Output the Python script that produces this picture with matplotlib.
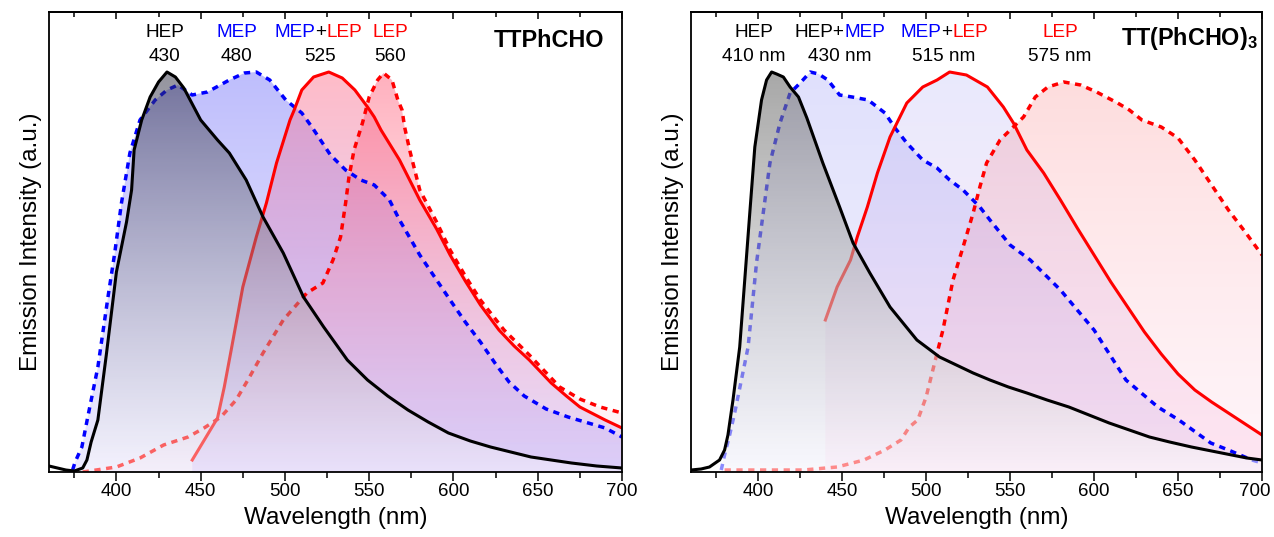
import numpy as np
import matplotlib
matplotlib.use('Agg')
import matplotlib.pyplot as plt
from matplotlib.patches import Polygon
from matplotlib.offsetbox import TextArea, HPacker, AnnotationBbox
from matplotlib.ticker import MultipleLocator
from matplotlib.transforms import ScaledTranslation

plt.rcParams['font.family'] = ['Liberation Sans', 'DejaVu Sans']
plt.rcParams['mathtext.fontset'] = 'custom'
plt.rcParams['mathtext.rm'] = 'Liberation Sans'
plt.rcParams['mathtext.bf'] = 'Liberation Sans:bold'

# ---------------- data: TTPhCHO (left) ----------------
wl_L_hep = [360, 365, 370, 375, 380, 382.5, 385, 389, 394, 400, 406, 409, 410.5, 415, 420,
            425, 430, 435, 440, 445, 450, 460, 467, 477, 487, 499, 511, 523, 537, 549,
            561, 573, 585, 597, 610, 622, 634, 646, 658, 670, 685, 700]
I_L_hep = [6, 4, 2, 1, 4, 12, 30, 52, 117, 200, 250, 282, 322, 352, 375,
           390, 400, 395, 384, 368, 352, 332, 319, 292, 255, 219, 175, 145, 112, 92,
           76, 62, 50, 39, 31, 25, 20, 15, 12, 9, 6, 4]

wl_L_mep = [374, 375.5, 379.5, 383, 389, 395, 399, 403, 408, 414, 423, 430, 436.5, 445, 454,
            467, 476, 483, 491, 500.5, 510, 516, 527, 536, 545, 553, 562, 568, 580, 590,
            598, 607, 616, 625, 633, 642, 655, 668, 680, 690, 700]
I_L_mep = [2, 10, 25, 55, 105, 175, 219, 269, 319, 352, 372, 382, 387, 377, 380,
           392, 399, 400, 392, 372, 359, 345, 317, 302, 292, 287, 272, 252, 217, 192,
           172, 150, 130, 108, 90, 76, 63, 55, 49, 44, 35]

wl_L_mix = [445, 450, 455, 460, 464, 468, 475, 483, 489, 495, 503, 505.5, 510, 517, 526,
            534, 541.5, 549, 553, 557, 568, 580, 590, 598, 607, 616, 627, 636, 645, 658,
            667, 675, 690, 700]
I_L_mix = [12, 26, 40, 54, 85, 121, 185, 235, 269, 309, 352, 362, 382, 395, 400,
           394, 382, 365, 355, 342, 312, 272, 243, 217, 191, 167, 142, 126, 112, 89,
           76, 65, 52, 44]

wl_L_lep = [380, 384, 400, 414, 428, 442.5, 452, 462, 471, 478, 487, 499, 513, 522.5, 528.5,
            533, 536, 538, 541, 546, 550, 555, 558.5, 563.5, 567, 569.5, 571, 574, 580, 590,
            598, 607, 616, 630, 645, 663, 675, 687, 700]
I_L_lep = [0, 1, 5, 14, 27, 35, 44, 55, 72, 92, 119, 152, 179, 189, 212,
           235, 269, 295, 322, 349, 375, 392, 399, 392, 372, 362, 345, 322, 282, 250,
           222, 196, 172, 142, 117, 85, 73, 65, 59]

# ---------------- data: TT(PhCHO)3 (right) ----------------
wl_R_hep = [360, 366, 371, 377, 380, 382, 385, 389, 392, 395, 398, 402, 405, 408, 411,
            415, 419, 424, 429, 438.5, 448.5, 456.5, 466.5, 478.5, 494.5, 508, 528, 538, 549, 560,
            572, 585, 597, 609, 621, 633, 645, 658, 670, 682, 691, 700]
I_R_hep = [2, 3, 5, 12, 22, 37, 72, 125, 192, 259, 325, 372, 392, 400, 398,
           395, 385, 375, 354, 309, 265, 229, 199, 165, 132, 115, 99, 92, 85, 79,
           72, 65, 57, 49, 42, 35, 30, 25, 21, 17, 14, 12]

wl_R_hm = [378, 380, 383, 386, 390, 394, 399, 403, 407, 413, 419, 425, 431, 436, 441.5,
           448.5, 456, 465.5, 475.5, 481.5, 488.5, 498, 506.5, 514, 522, 532, 538, 550, 562, 580,
           600, 619, 638, 650.5, 669.5, 680, 694, 700]
I_R_hm = [2, 17, 37, 59, 92, 125, 209, 259, 309, 349, 379, 389, 400, 398, 392,
          377, 375, 372, 359, 344, 329, 312, 304, 292, 282, 265, 252, 227, 212, 182,
          142, 92, 65, 52, 29, 22, 12, 9]

wl_R_mix = [440, 447, 455, 459, 465, 471, 478.5, 488.5, 498, 506.5, 514, 524, 536.5, 546, 552,
            560, 570, 580, 590, 600, 610, 620, 630, 640, 650, 660, 670, 680, 690, 700]
I_R_mix = [152, 185, 212, 235, 265, 299, 335, 369, 385, 392, 400, 397, 385, 365, 349,
           322, 299, 272, 244, 217, 190, 165, 140, 118, 98, 82, 70, 59, 48, 37]

wl_R_lep = [380, 400, 427, 447, 463, 475.5, 485, 490, 495, 500, 504, 510, 516, 522, 528,
            532, 536, 544, 558, 565, 572.5, 582, 592, 601.5, 614, 621, 628.5, 640, 650, 660,
            670, 680, 690, 700]
I_R_lep = [2, 2, 2, 5, 12, 22, 32, 45, 52, 75, 102, 142, 192, 225, 259,
           285, 309, 332, 355, 375, 385, 390, 387, 380, 369, 362, 352, 345, 334, 312,
           287, 262, 240, 217]

xticks = [400, 450, 500, 550, 600, 650, 700]

FS_TICK = 13.5
FS_LAB = 17.5
FS_ANN = 13.7


def grad_fill(ax, x, y, top, bot, z):
    x = np.asarray(x, float)
    y = np.asarray(y, float)
    ymax = y.max()
    top = np.array(top, float)
    bot = np.array(bot, float)
    top[:3] /= 255.0
    bot[:3] /= 255.0
    t = np.linspace(0, 1, 256)[:, None, None]
    img = bot + (top - bot) * t
    im = ax.imshow(img, extent=[x[0], x[-1], 0, ymax], origin='lower',
                   aspect='auto', interpolation='bilinear', zorder=z)
    poly = Polygon(np.column_stack([np.r_[x[0], x, x[-1]], np.r_[0, y, 0]]),
                   closed=True, facecolor='none', edgecolor='none',
                   transform=ax.transData)
    ax.add_patch(poly)
    im.set_clip_path(poly)


def label(ax, x, yfrac, parts, size=FS_ANN):
    areas = [TextArea(s, textprops=dict(color=c, fontsize=size)) for s, c in parts]
    box = HPacker(children=areas, align='baseline', pad=0, sep=0)
    ab = AnnotationBbox(box, (x, yfrac), xycoords=('data', 'axes fraction'),
                        frameon=False, box_alignment=(0.5, 0.5), pad=0, zorder=20)
    ax.add_artist(ab)


def style(ax):
    ax.set_xlim(360, 700)
    ax.set_ylim(0, 460)
    ax.set_yticks([])
    ax.set_xticks(xticks)
    ax.xaxis.set_minor_locator(MultipleLocator(25))
    ax.tick_params(axis='x', which='major', direction='out', length=6.7, width=1.1,
                   labelsize=FS_TICK, pad=1.5, top=False)
    ax.tick_params(axis='x', which='minor', direction='out', length=4.3, width=1.1,
                   top=False)
    for s in ax.spines.values():
        s.set_linewidth(1.3)
        s.set_color('black')
        s.set_zorder(30)
    sec = ax.secondary_xaxis('top')
    sec.set_xticks(xticks)
    sec.xaxis.set_minor_locator(MultipleLocator(25))
    sec.tick_params(axis='x', which='major', direction='in', length=5, width=1.1,
                    labeltop=False)
    sec.tick_params(axis='x', which='minor', direction='in', length=3.5, width=1.1)
    sec.spines['top'].set_linewidth(1.3)
    ax.set_xlabel('Wavelength (nm)', fontsize=FS_LAB)
    ax.set_ylabel('Emission Intensity (a.u.)', fontsize=FS_LAB)
    ax.yaxis.set_label_coords(-0.013, 0.5)
    ax.xaxis.set_label_coords(0.5, -0.077)


fig = plt.figure(figsize=(12.74, 5.37), dpi=100)
axL = fig.add_axes([49 / 1274, 65 / 537, 573 / 1274, 460 / 537])
axR = fig.add_axes([691 / 1274, 65 / 537, 571 / 1274, 460 / 537])

DOT = (0, (1.8, 1.6))

# ---- left panel ----
ax = axL
grad_fill(ax, wl_L_mep, I_L_mep, (110, 110, 250, 0.45), (170, 160, 250, 0.22), 1)
grad_fill(ax, wl_L_mix, I_L_mix, (255, 120, 145, 0.5), (170, 150, 255, 0.3), 2)
grad_fill(ax, wl_L_lep, I_L_lep, (255, 80, 110, 0.45), (255, 190, 210, 0.1), 3)
ax.plot(wl_L_mep, I_L_mep, color='#0000ff', lw=2.5, ls=DOT, zorder=4)
ax.plot(wl_L_lep, I_L_lep, color='#ff0000', lw=2.5, ls=DOT, zorder=4)
ax.plot(wl_L_mix, I_L_mix, color='#ff0000', lw=2.2, zorder=4)
grad_fill(ax, wl_L_hep, I_L_hep, (40, 40, 60, 0.5), (255, 255, 255, 0.4), 5)
ax.plot(wl_L_hep, I_L_hep, color='black', lw=2.2, zorder=6)
style(ax)

y1, y2 = 0.9554, 0.9028
label(ax, 428.8, y1, [('HEP', 'black')])
label(ax, 428.8, y2, [('430', 'black')])
label(ax, 471.5, y1, [('MEP', '#0000ff')])
label(ax, 471.5, y2, [('480', 'black')])
label(ax, 519.6, y1, [('MEP', '#0000ff'), ('+', 'black'), ('LEP', '#ff0000')])
label(ax, 520.8, y2, [('525', 'black')])
label(ax, 562.3, y1, [('LEP', '#ff0000')])
label(ax, 562.3, y2, [('560', 'black')])
ax.text(0.9686, 0.9246, 'TTPhCHO', transform=ax.transAxes, ha='right', va='baseline',
        fontsize=16.8, fontweight='bold', zorder=20)

# ---- right panel ----
ax = axR
grad_fill(ax, wl_R_hm, I_R_hm, (100, 100, 240, 0.2), (150, 150, 250, 0.12), 1)
grad_fill(ax, wl_R_mix, I_R_mix, (110, 110, 240, 0.15), (255, 140, 200, 0.15), 2)
grad_fill(ax, wl_R_lep, I_R_lep, (250, 100, 100, 0.22), (255, 160, 200, 0.1), 3)
ax.plot(wl_R_hm, I_R_hm, color='#0000ff', lw=2.5, ls=DOT, zorder=4)
ax.plot(wl_R_lep, I_R_lep, color='#ff0000', lw=2.5, ls=DOT, zorder=4)
ax.plot(wl_R_mix, I_R_mix, color='#ff0000', lw=2.2, zorder=4)
grad_fill(ax, wl_R_hep, I_R_hep, (110, 110, 110, 0.6), (255, 255, 255, 0.55), 5)
ax.plot(wl_R_hep, I_R_hep, color='black', lw=2.2, zorder=6)
style(ax)

label(ax, 397.5, y1, [('HEP', 'black')])
label(ax, 397.5, y2, [('410 nm', 'black')])
label(ax, 448.7, y1, [('HEP+', 'black'), ('MEP', '#0000ff')])
label(ax, 448.7, y2, [('430 nm', 'black')])
label(ax, 510.6, y1, [('MEP', '#0000ff'), ('+', 'black'), ('LEP', '#ff0000')])
label(ax, 510.6, y2, [('515 nm', 'black')])
label(ax, 579.7, y1, [('LEP', '#ff0000')])
label(ax, 579.7, y2, [('575 nm', 'black')])
ax.text(0.993, 0.928, r'TT(PhCHO)$_{\mathbf{3}}$', transform=ax.transAxes, ha='right',
        va='baseline', fontsize=16.8, fontweight='bold', zorder=20)

# keep the last tick label of the right panel inside the canvas
fig.canvas.draw()
last = axR.xaxis.get_major_ticks()[-1].label1
last.set_transform(last.get_transform() + ScaledTranslation(-5 / 72, 0, fig.dpi_scale_trans))

fig.savefig('out.png', dpi=100)
